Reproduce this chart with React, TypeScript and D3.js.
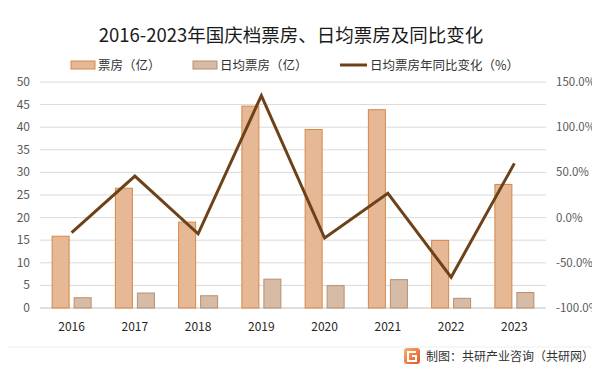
import React, { useEffect, useRef } from "react";
import * as d3 from "d3";

const years = ["2016", "2017", "2018", "2019", "2020", "2021", "2022", "2023"];
const boxOffice = [15.88, 26.5, 19.0, 44.66, 39.5, 43.87, 14.96, 27.34];
const dailyBoxOffice = [2.27, 3.31, 2.71, 6.38, 4.94, 6.27, 2.14, 3.42];
const dailyYoY = [-16.5, 45.9, -18.0, 135.0, -22.6, 26.9, -66.0, 60.0];
const leftTicks = [0, 5, 10, 15, 20, 25, 30, 35, 40, 45, 50];
const rightTicks = [-100, -50, 0, 50, 100, 150];

const W = 600;
const H = 372;
const FONT = "'Noto Sans CJK SC', 'Noto Sans', sans-serif";

export default function App() {
  const ref = useRef<SVGSVGElement>(null);

  useEffect(() => {
    const svg = d3.select(ref.current);
    svg.selectAll("*").remove();

    const left = 40, right = 546, top = 82, bottom = 308;
    const x = d3.scaleBand().domain(years).range([left, right]).paddingInner(0).paddingOuter(0);
    const yL = d3.scaleLinear().domain([0, 50]).range([bottom, top]);
    const yR = d3.scaleLinear().domain([-100, 150]).range([bottom, top]);

    svg.append("rect").attr("width", W).attr("height", H).attr("fill", "#fff");

    // title
    svg.append("text")
      .attr("x", 291).attr("y", 42)
      .attr("text-anchor", "middle")
      .style("font-family", FONT).style("font-size", "18.5px").attr("fill", "#1a1a1a")
      .text("2016-2023年国庆档票房、日均票房及同比变化");

    // legend
    const lg = svg.append("g").style("font-family", FONT).style("font-size", "12.5px").attr("fill", "#333");
    lg.append("rect").attr("x", 71).attr("y", 61).attr("width", 24).attr("height", 8)
      .attr("fill", "#E6B896").attr("stroke", "#D4884A");
    lg.append("text").attr("x", 98).attr("y", 70).text("票房（亿）");
    lg.append("rect").attr("x", 193).attr("y", 61).attr("width", 24).attr("height", 8)
      .attr("fill", "#D6BBA6").attr("stroke", "#B98E6E");
    lg.append("text").attr("x", 220).attr("y", 70).text("日均票房（亿）");
    lg.append("line").attr("x1", 340).attr("x2", 367).attr("y1", 65).attr("y2", 65)
      .attr("stroke", "#6E4219").attr("stroke-width", 3);
    lg.append("text").attr("x", 370).attr("y", 70).text("日均票房年同比变化（%）");

    // gridlines
    svg.append("g").selectAll("line").data(leftTicks.slice(1)).join("line")
      .attr("x1", left).attr("x2", right)
      .attr("y1", d => yL(d)).attr("y2", d => yL(d))
      .attr("stroke", "#d9d9d9").attr("stroke-width", 1);
    svg.append("line").attr("x1", left).attr("x2", right).attr("y1", bottom).attr("y2", bottom)
      .attr("stroke", "#bfbfbf");

    // left axis labels
    svg.append("g").selectAll("text").data(leftTicks).join("text")
      .attr("x", 30).attr("y", d => yL(d) + 4)
      .attr("text-anchor", "end")
      .style("font-family", FONT).style("font-size", "12px").attr("fill", "#595959")
      .text(d => d);

    // right axis labels
    svg.append("g").selectAll("text").data(rightTicks).join("text")
      .attr("x", 556).attr("y", d => yR(d) + 4)
      .attr("text-anchor", "start")
      .style("font-family", FONT).style("font-size", "11.5px").attr("fill", "#595959")
      .text(d => d.toFixed(1) + "%");

    // bars
    const bw = 17, gap = 5;
    const off = (x.bandwidth() - (2 * bw + gap)) / 2;
    svg.append("g").selectAll("rect").data(boxOffice).join("rect")
      .attr("x", (d, i) => (x(years[i]) as number) + off)
      .attr("y", d => yL(d)).attr("width", bw).attr("height", d => bottom - yL(d))
      .attr("fill", "#E6B896").attr("stroke", "#D4884A").attr("stroke-width", 1);
    svg.append("g").selectAll("rect").data(dailyBoxOffice).join("rect")
      .attr("x", (d, i) => (x(years[i]) as number) + off + bw + gap)
      .attr("y", d => yL(d)).attr("width", bw).attr("height", d => bottom - yL(d))
      .attr("fill", "#D6BBA6").attr("stroke", "#B98E6E").attr("stroke-width", 1);

    // line
    const line = d3.line<number>()
      .x((d, i) => (x(years[i]) as number) + x.bandwidth() / 2)
      .y(d => yR(d));
    svg.append("path").datum(dailyYoY).attr("d", line)
      .attr("fill", "none").attr("stroke", "#6E4219").attr("stroke-width", 3)
      .attr("stroke-linejoin", "miter");

    // x labels
    svg.append("g").selectAll("text").data(years).join("text")
      .attr("x", d => (x(d) as number) + x.bandwidth() / 2).attr("y", 331)
      .attr("text-anchor", "middle")
      .style("font-family", FONT).style("font-size", "12px").attr("fill", "#262626")
      .text(d => d);

    // separator
    svg.append("line").attr("x1", 0).attr("x2", W).attr("y1", 347).attr("y2", 347)
      .attr("stroke", "#eeeeee");

    // footer logo + text
    const defs = svg.append("defs");
    const grad = defs.append("linearGradient").attr("id", "logoG").attr("x1", 0).attr("y1", 0).attr("x2", 1).attr("y2", 1);
    grad.append("stop").attr("offset", "0%").attr("stop-color", "#F6B06A");
    grad.append("stop").attr("offset", "100%").attr("stop-color", "#E8502A");
    svg.append("rect").attr("x", 404).attr("y", 348).attr("width", 16).attr("height", 16).attr("rx", 3)
      .attr("fill", "url(#logoG)");
    svg.append("path")
      .attr("d", "M416 352 L408 352 L408 361 L416 361 L416 356 L412 356")
      .attr("fill", "none").attr("stroke", "#fff").attr("stroke-width", 2);
    svg.append("text").attr("x", 426).attr("y", 361)
      .style("font-family", FONT).style("font-size", "12px").attr("fill", "#333")
      .text("制图：共研产业咨询（共研网）");
  }, []);

  return <svg ref={ref} width={W} height={H} style={{ display: "block", margin: "-8px" }} />;
}
